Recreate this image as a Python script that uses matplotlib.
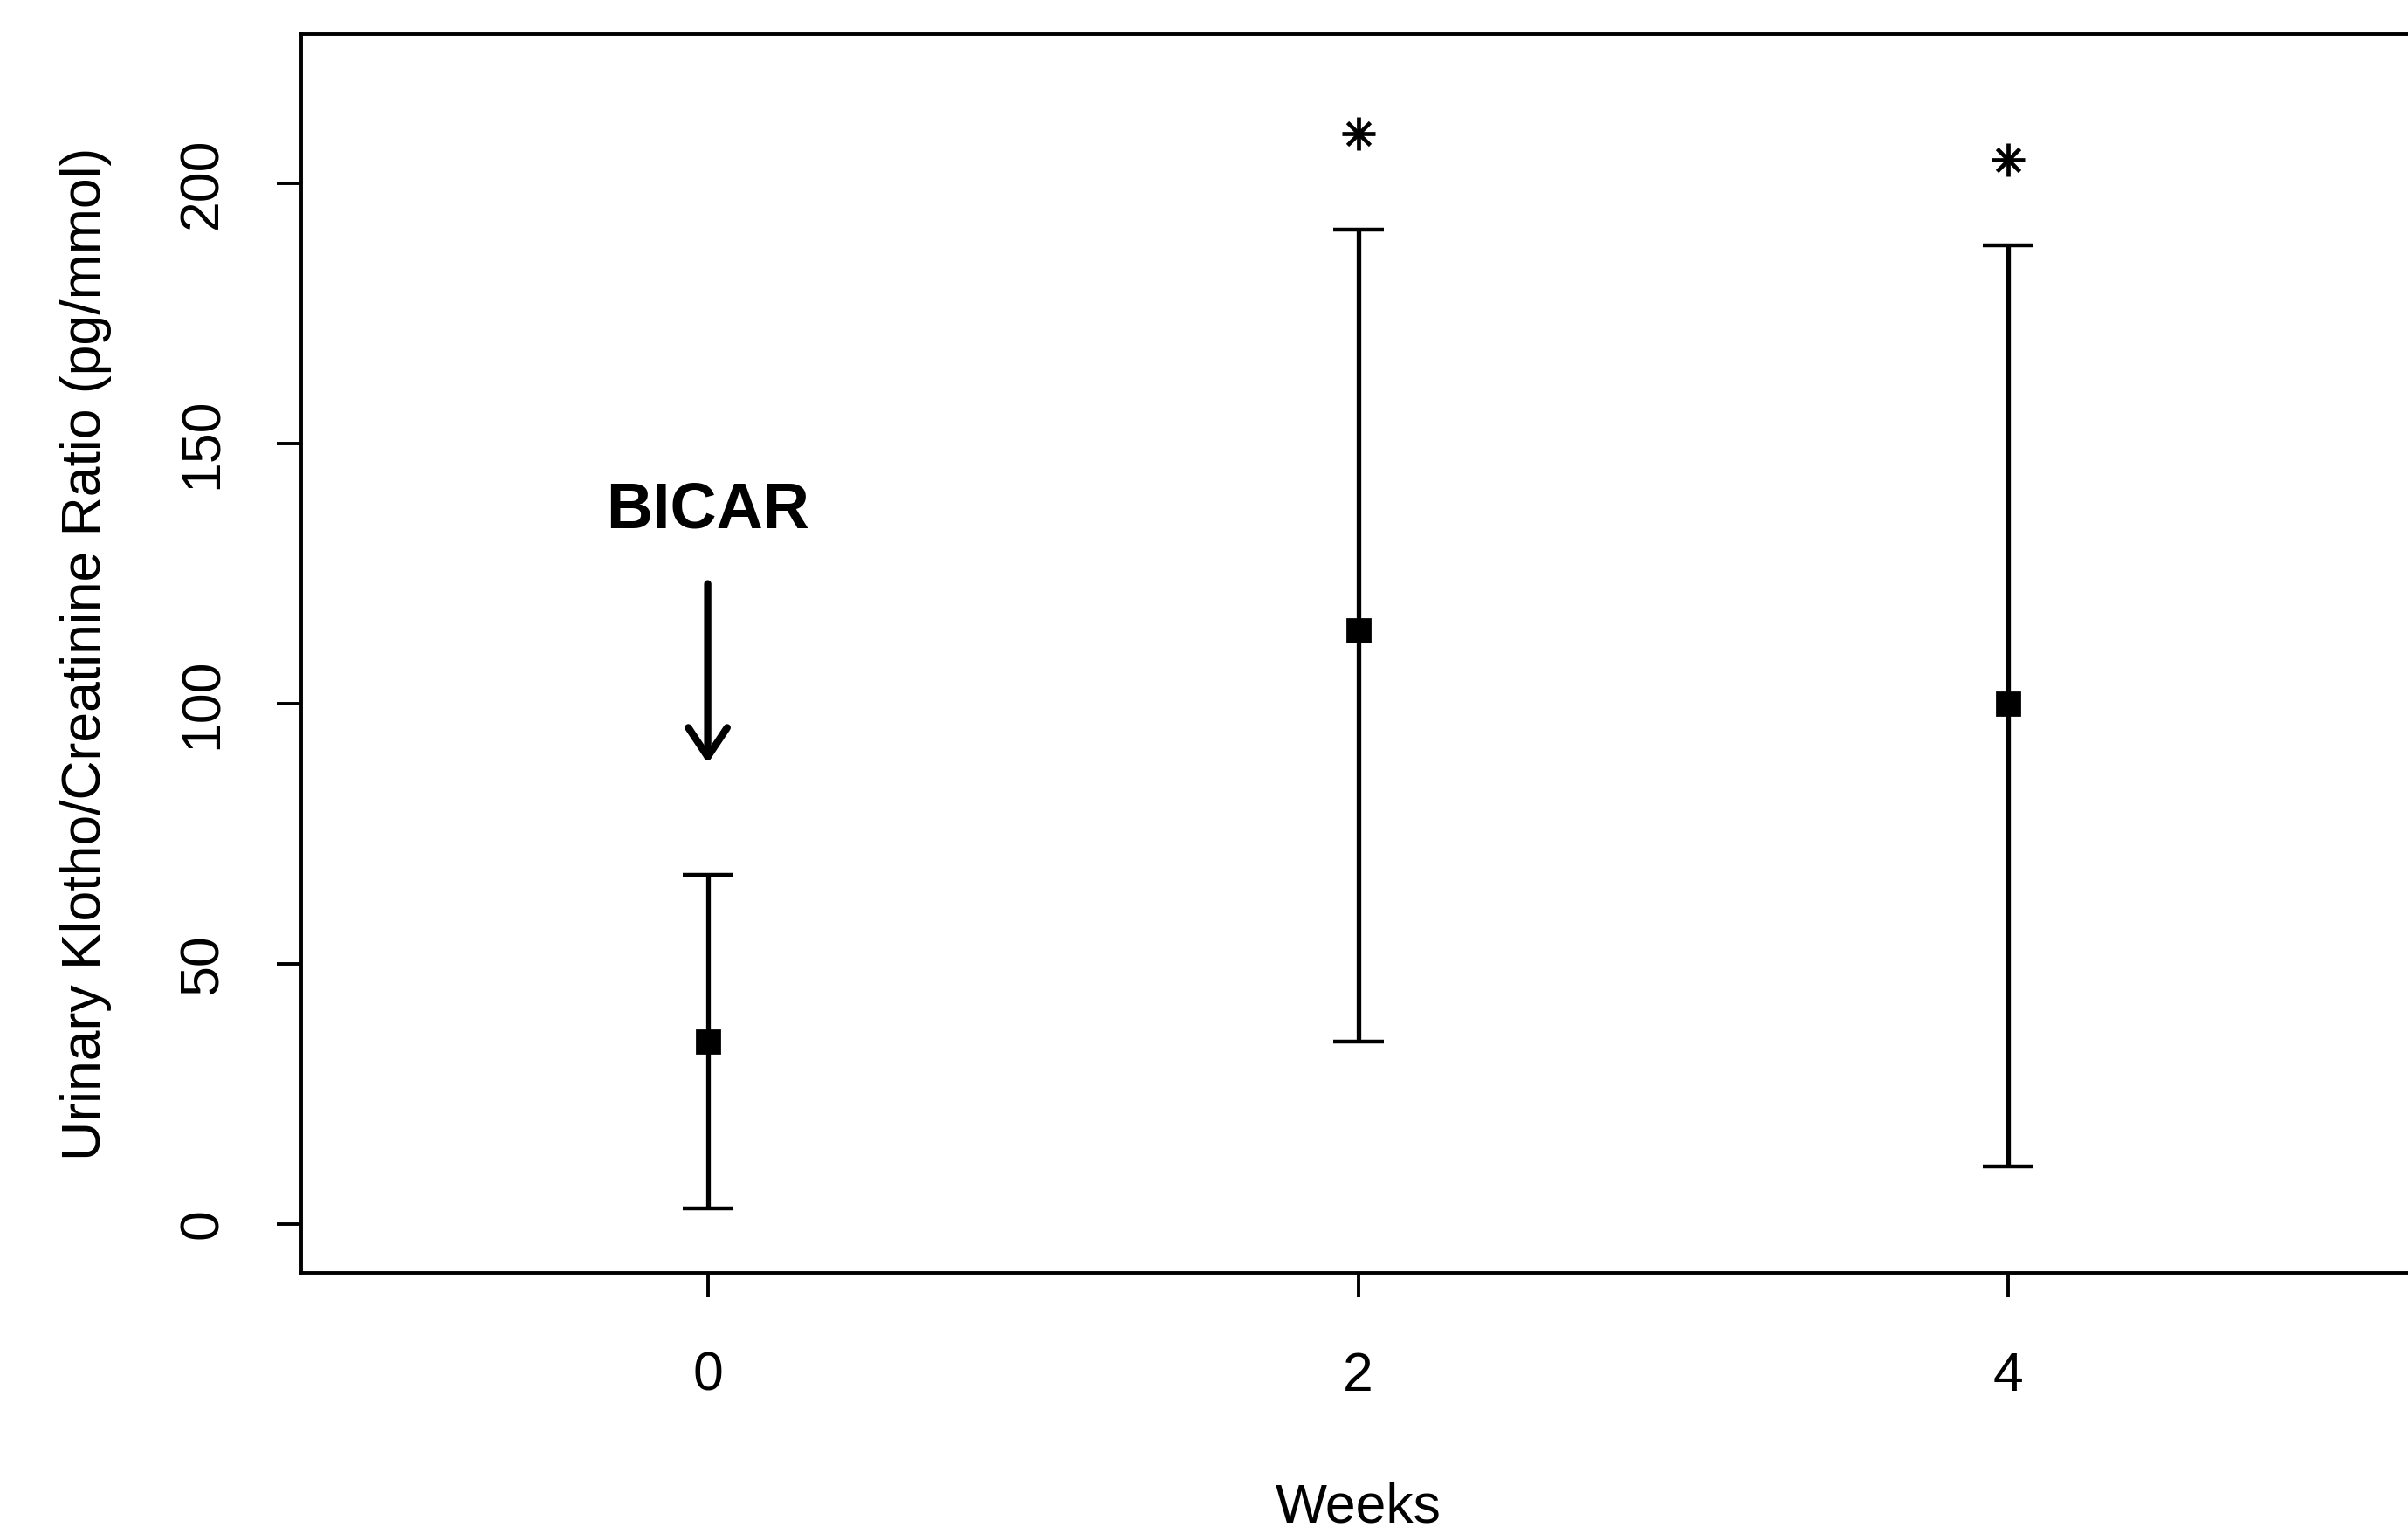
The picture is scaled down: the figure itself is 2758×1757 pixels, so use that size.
import matplotlib
matplotlib.use('Agg')
import matplotlib.pyplot as plt
import numpy as np

plt.rcParams['font.family'] = ['Liberation Sans', 'DejaVu Sans']

# 数据
weeks = [0, 2, 4]
mean_ratio = [35, 114, 100]
lower_ci = [3, 35, 11]
upper_ci = [67, 191, 188]
star_weeks = [2, 4]
star_y = [209.5, 204.5]
yticks = [0, 50, 100, 150, 200]


def plot_klotho():
    fig = plt.figure(figsize=(13.79, 8.785), dpi=200)
    ax = fig.add_axes([0.1251, 0.1702, 0.8778, 0.8076])

    mean = np.array(mean_ratio)
    err = [mean - np.array(lower_ci), np.array(upper_ci) - mean]
    ax.errorbar(weeks, mean, yerr=err, fmt='s', color='black',
                markersize=9.5, elinewidth=1.9, capsize=10.5, capthick=1.6)

    # 显著性标记 (pch=8)
    ax.plot(star_weeks, star_y, '+', color='black', markersize=14, mew=1.7)
    ax.plot(star_weeks, star_y, 'x', color='black', markersize=9.5, mew=1.7)

    # BICAR 箭头
    ax.text(0, 137, 'BICAR', ha='center', va='center',
            fontsize=26.5, fontweight='bold')
    ax.annotate('', xy=(0, 88.5), xytext=(0, 123),
                arrowprops=dict(arrowstyle='->,head_length=0.6,head_width=0.4',
                                lw=3.0, color='black', mutation_scale=20,
                                shrinkA=0, shrinkB=0))

    ax.set_xlim(-1.25, 5.25)
    ax.set_ylim(-9.4, 228.6)
    ax.set_xticks(weeks)
    ax.set_yticks(yticks)
    ax.set_yticklabels([str(t) for t in yticks], rotation=90, va='center')
    ax.tick_params(axis='both', length=10, width=1.4, labelsize=22.5)
    ax.tick_params(axis='x', pad=22)
    ax.tick_params(axis='y', pad=20)
    for s in ax.spines.values():
        s.set_linewidth(1.4)

    ax.set_xlabel('Weeks', fontsize=22.5, labelpad=33)
    ax.set_ylabel('Urinary Klotho/Creatinine Ratio (pg/mmol)', fontsize=22.5,
                  labelpad=27)

    fig.savefig('out.png', dpi=200)


if __name__ == "__main__":
    plot_klotho()
